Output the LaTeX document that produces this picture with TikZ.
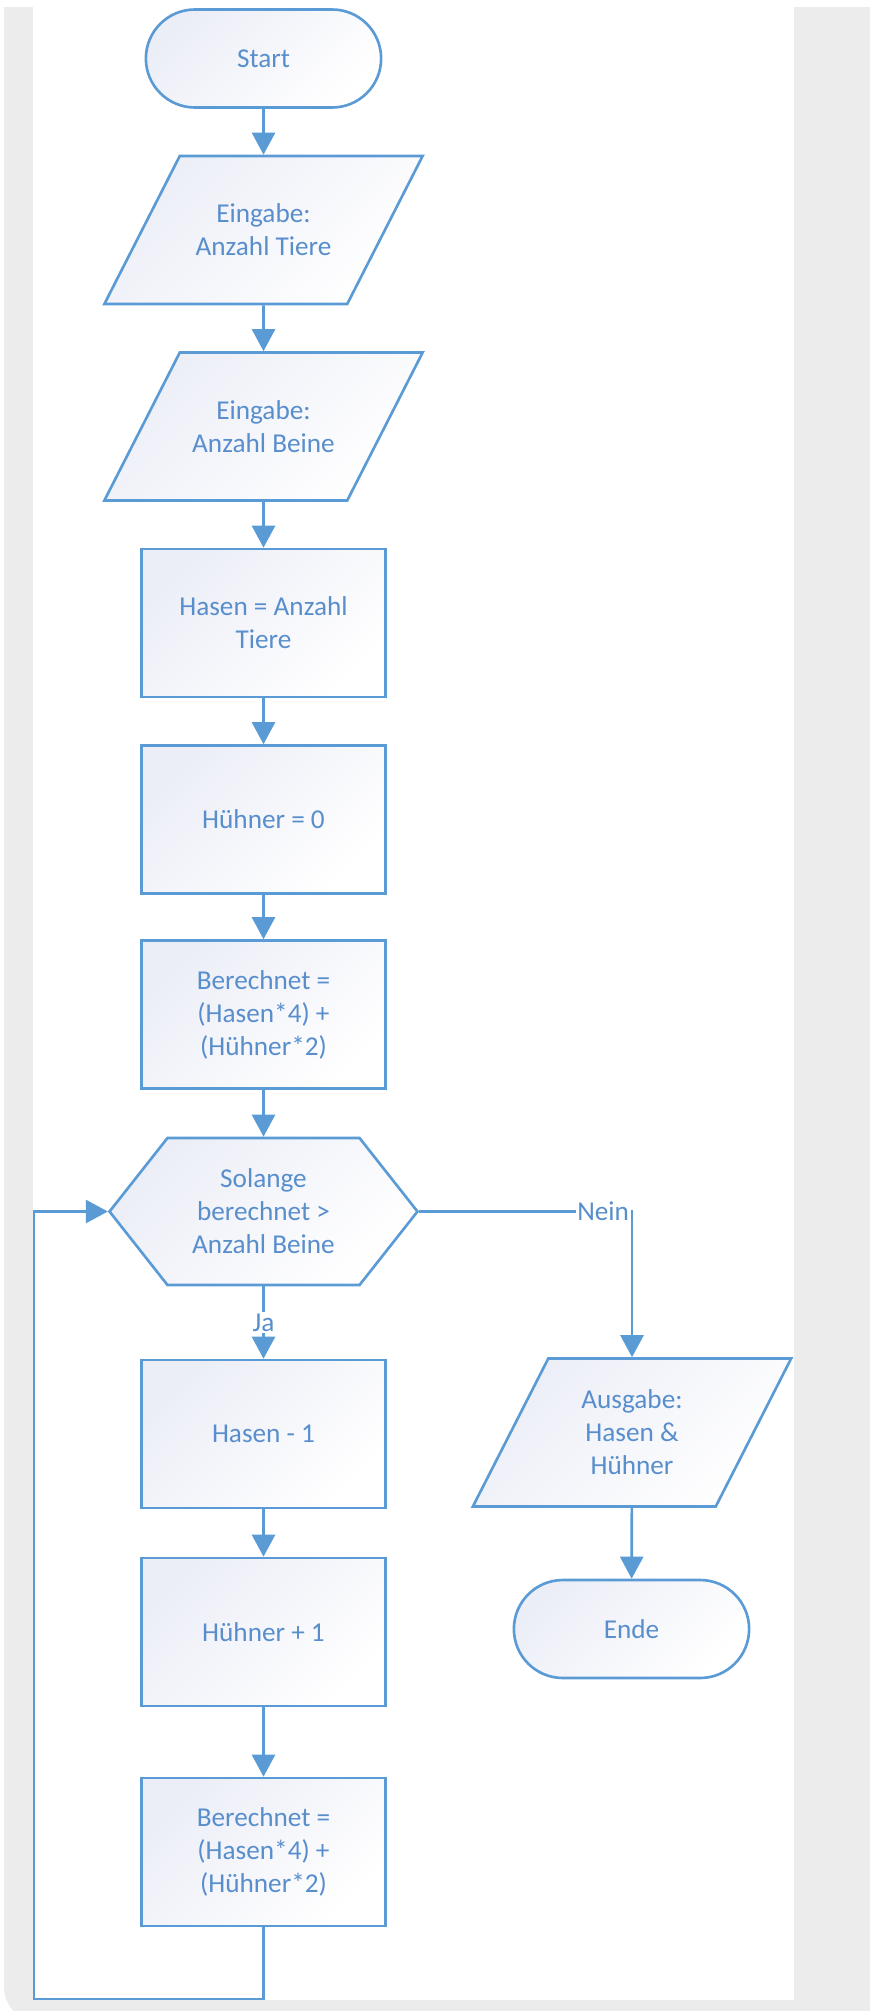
\documentclass[tikz,border=0pt]{standalone}
\usepackage{fontspec}
\setmainfont{Carlito}
\usetikzlibrary{shapes.geometric,shapes.misc,shapes.symbols,arrows.meta,positioning}
\definecolor{lineblue}{RGB}{91,155,213}
\definecolor{textblue}{RGB}{88,142,204}
\definecolor{shadeblue}{RGB}{236,238,247}
\definecolor{bggray}{RGB}{236,236,236}

\tikzset{
  chart/.style={draw=lineblue, line width=1.5pt, text=textblue,
    font=\fontsize{15.5}{18.8}\selectfont,
    top color=shadeblue, bottom color=white, shading angle=45},
  terminal/.style={chart, align=center, rounded rectangle, minimum width=4.94cm, minimum height=1.96cm},
  iobox/.style={chart, trapezium, trapezium left angle=63, trapezium right angle=117,
    inner xsep=0pt, inner ysep=0.23cm,
    execute at begin node={\begin{minipage}[c][2.5cm][c]{3.35cm}\centering},
    execute at end node={\end{minipage}}},
  procbox/.style={chart, align=center, rectangle, minimum width=4.88cm, minimum height=2.96cm},
  loopcond/.style={chart, align=center, signal, signal to=west and east, signal pointer angle=103.5,
    minimum width=6.16cm, minimum height=2.94cm},
  flow/.style={draw=lineblue, line width=1.5pt, -{Triangle[width=0.46cm,length=0.44cm]}},
  lbl/.style={fill=white, text=textblue, font=\fontsize{15.5}{18.8}\selectfont, inner sep=1pt}
}

\begin{document}
\begin{tikzpicture}[x=0.02cm, y=-0.02cm]
% Frame
\useasboundingbox (0,0) rectangle (870,2011);
\clip (0,0) rectangle (870,2011);
\fill[bggray, rounded corners=0.7cm] (4,-60) rectangle (940,2022);
\fill[white] (0,0) rectangle (870,7);
\fill[white] (33,7) rectangle (794,2000);

% Main column
\node[terminal] (start) at (263.5,58.5) {Start};
\node[iobox] (inTiere) at (263.5,230) {Eingabe:\\Anzahl Tiere};
\node[iobox] (inBeine) at (263.5,426.5) {Eingabe:\\Anzahl Beine};
\node[procbox] (setHasen) at (263.5,623) {Hasen = Anzahl\\Tiere};
\node[procbox] (setHuehner) at (263.5,819.5) {Hühner = 0};
\node[procbox] (calcA) at (263.5,1014.5) {Berechnet =\\(Hasen*4) +\\(Hühner*2)};
\node[loopcond] (cond) at (263.5,1211.5) {Solange\\berechnet >\\Anzahl Beine};
\node[procbox] (decHasen) at (263.5,1434) {Hasen - 1};
\node[procbox] (incHuehner) at (263.5,1632) {Hühner + 1};
\node[procbox] (calcB) at (263.5,1852) {Berechnet =\\(Hasen*4) +\\(Hühner*2)};

% Exit column
\node[iobox] (outRes) at (632,1432.5) {Ausgabe:\\Hasen \&\\Hühner};
\node[terminal] (ende) at (631.5,1629) {Ende};

% Connectors
\draw[flow] (start) -- (inTiere);
\draw[flow] (inTiere) -- (inBeine);
\draw[flow] (inBeine) -- (setHasen);
\draw[flow] (setHasen) -- (setHuehner);
\draw[flow] (setHuehner) -- (calcA);
\draw[flow] (calcA) -- (cond);
\draw[flow] (cond.south) -- node[lbl] {Ja} (decHasen.north);
\draw[flow] (decHasen) -- (incHuehner);
\draw[flow] (incHuehner) -- (calcB);
\draw[flow] (cond.east) -- (cond.east -| outRes.north) node[lbl, anchor=east] {Nein} -- (outRes.north);
\draw[flow] (outRes) -- (ende);

% Loop back
\coordinate (loopBL) at (34,1999);
\draw[flow] (calcB.south) |- (loopBL) |- (cond.west);
\end{tikzpicture}
\end{document}
